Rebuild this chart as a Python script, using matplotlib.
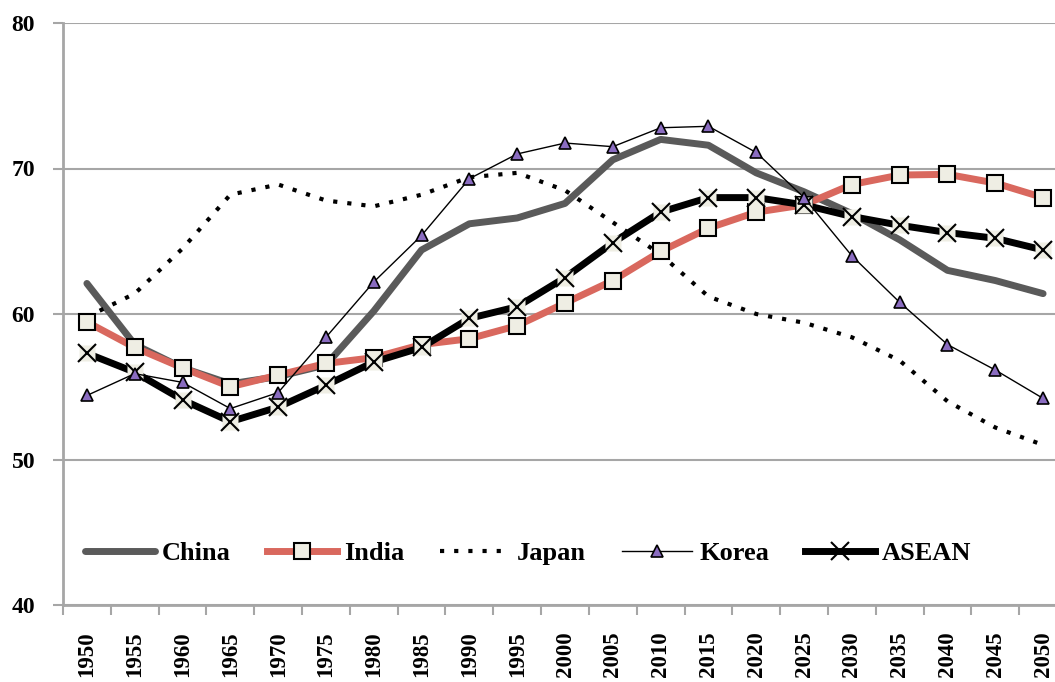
import matplotlib
matplotlib.use("Agg")
import matplotlib.pyplot as plt
import numpy as np

years = [1950, 1955, 1960, 1965, 1970, 1975, 1980, 1985, 1990, 1995, 2000,
         2005, 2010, 2015, 2020, 2025, 2030, 2035, 2040, 2045, 2050]

china = [62.1, 57.9, 56.3, 55.2, 55.7, 56.5, 60.2, 64.4, 66.2, 66.6, 67.6,
         70.6, 72.0, 71.6, 69.7, 68.4, 66.9, 65.1, 63.0, 62.3, 61.4]
india = [59.45, 57.7, 56.3, 55.0, 55.8, 56.6, 57.0, 57.9, 58.3, 59.2, 60.75,
         62.3, 64.3, 65.9, 67.0, 67.5, 68.9, 69.55, 69.6, 69.0, 68.0]
japan = [59.8, 61.4, 64.5, 68.2, 68.9, 67.8, 67.4, 68.2, 69.4, 69.7, 68.5,
         66.3, 64.1, 61.2, 60.0, 59.4, 58.4, 56.8, 54.0, 52.2, 51.0]
korea = [54.4, 55.9, 55.3, 53.5, 54.6, 58.4, 62.2, 65.4, 69.3, 71.0, 71.75,
         71.5, 72.8, 72.9, 71.1, 68.0, 64.0, 60.8, 57.9, 56.15, 54.2]
asean = [57.3, 56.0, 54.1, 52.6, 53.6, 55.1, 56.7, 57.7, 59.7, 60.5, 62.5,
         64.9, 67.0, 68.0, 68.0, 67.5, 66.7, 66.1, 65.6, 65.2, 64.4]

plt.rcParams['font.family'] = ['Liberation Serif', 'DejaVu Serif']
plt.rcParams['font.weight'] = 'bold'

fig = plt.figure(figsize=(10.55, 6.82), dpi=100)
ax = fig.add_axes([63 / 1055, 1 - 605 / 682, 1004 / 1055, 582 / 682])

x = np.arange(len(years))
grid_col = '#a6a6a6'
marker_fill = '#efeee4'

ax.plot(x, china, color='#5a5a5a', lw=5, solid_capstyle='round', label='China', zorder=3)
ax.plot(x, india, color='#d9685e', lw=5, marker='s', ms=12, mfc=marker_fill,
        mec='black', mew=1.5, label='India', zorder=4)
ax.plot(x, japan, color='black', lw=3, ls=(0, (1, 2.4)), label='Japan', zorder=3)
ax.plot(x, korea, color='black', lw=1, marker='^', ms=8, mfc='#8a6cc0',
        mec='black', mew=1.2, label='Korea', zorder=5)
ax.plot(x, asean, color='black', lw=5, zorder=4)
ax.plot(x, asean, ls='none', marker='s', ms=12, mfc=marker_fill, mec='none', zorder=4)
ax.plot(x, asean, color='black', ls='none', marker='x', ms=13, mew=1.5, zorder=4)
# legend proxy for ASEAN line + marker
ax.plot([], [], color='black', lw=5, marker='x', ms=13, mew=1.5,
        mec='black', label='ASEAN')

ax.set_ylim(40, 80)
ax.set_yticks([40, 50, 60, 70, 80])
ax.set_xlim(-0.5, len(years) - 0.5)
ax.set_xticks(x)
ax.set_xticklabels([str(y) for y in years], rotation=90, va='top')
ax.set_xticks(np.arange(len(years) + 1) - 0.5, minor=True)
ax.tick_params(axis='x', which='major', length=0, pad=19, labelsize=16.5)
ax.tick_params(axis='x', which='minor', length=7, width=1.5, color=grid_col, direction='out')
ax.tick_params(axis='y', length=7, width=1.5, color=grid_col, pad=13, labelsize=17)

ax.yaxis.grid(True, color=grid_col, lw=1.5)
ax.set_axisbelow(True)
for side in ['top', 'right']:
    ax.spines[side].set_visible(False)
for side in ['left', 'bottom']:
    ax.spines[side].set_color(grid_col)
    ax.spines[side].set_linewidth(2)

leg = ax.legend(loc='center left', bbox_to_anchor=(85 / 1055, 1 - 553 / 682),
                bbox_transform=fig.transFigure, ncol=5, frameon=False,
                fontsize=19, handlelength=2.65, handletextpad=0.27,
                columnspacing=1.36, borderpad=0, borderaxespad=0)

fig.savefig('out.png', dpi=100)
